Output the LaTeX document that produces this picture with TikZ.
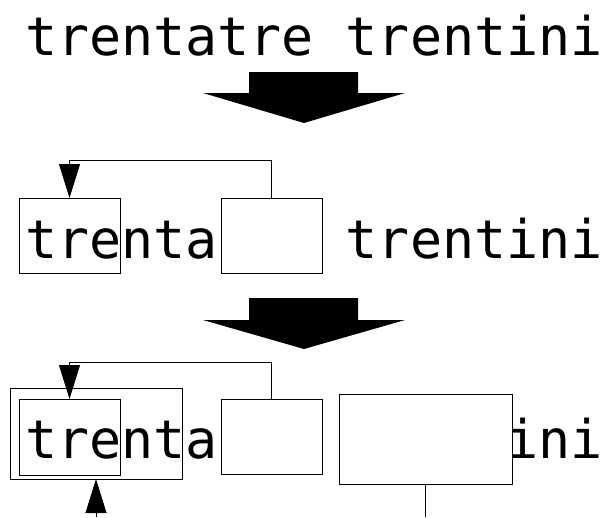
\documentclass[tikz,border=0pt]{standalone}
\usepackage{fontspec}
\newfontfamily\monofam{DejaVu Sans Mono}
\usetikzlibrary{arrows.meta}
\tikzset{
  txt/.style={inner sep=0pt, outer sep=0pt, anchor=base west, font=\monofam\fontsize{53.3}{60}\selectfont},
  box/.style={draw=black, line width=0.9pt, inner sep=0pt, outer sep=0pt},
  wbox/.style={box, fill=white},
  conn/.style={draw=black, line width=0.9pt},
  head/.style={conn, -{Triangle[length=34pt,width=21pt]}},
  fat/.style={fill=black},
}
\begin{document}
\begin{tikzpicture}[x=1pt,y=-1pt]
\useasboundingbox (0,0) rectangle (605,517);
\def\xo{25}
\def\pitch{32.09}
% row 1
\node[txt] (t1) at (\xo,55) {trentatre trentini};
\fill[fat] (249,72) -- (358,72) -- (358,93) -- (405,93) -- (304,123) -- (203,93) -- (249,93) -- cycle;
% row 2
\node[txt] (t2a) at (\xo,258) {trenta};
\node[txt] (t2b) at ({\xo+10*\pitch},258) {trentini};
\node[box, minimum width=101pt, minimum height=75pt] (a2) at (69.5,235.5) {};
\node[wbox, minimum width=101pt, minimum height=75pt] (b2) at (271.5,235.5) {};
\draw[head] (b2.north) -- ++(0,-38) -| (a2.north);
\fill[fat] (249,298) -- (358,298) -- (358,320) -- (405,320) -- (304,349) -- (203,320) -- (249,320) -- cycle;
% row 3
\node[txt] (t3a) at (\xo,458) {trenta};
\node[txt] (t3b) at ({\xo+15*\pitch},458) {ini};
\node[box, minimum width=172pt, minimum height=91pt] (o3) at (96,433.5) {};
\node[box, minimum width=101pt, minimum height=76pt] (a3) at (69.5,437) {};
\node[wbox, minimum width=101pt, minimum height=75pt] (b3) at (271.5,436.5) {};
\node[wbox, minimum width=173pt, minimum height=90pt] (c3) at (425.5,439) {};
\draw[head] (b3.north) -- ++(0,-37) -| (a3.north);
\coordinate (up) at (96,517);
\draw[head] (up) -- (o3.south);
\coordinate (down) at (425.5,517);
\draw[conn] (c3.south) -- (down);
\end{tikzpicture}
\end{document}
